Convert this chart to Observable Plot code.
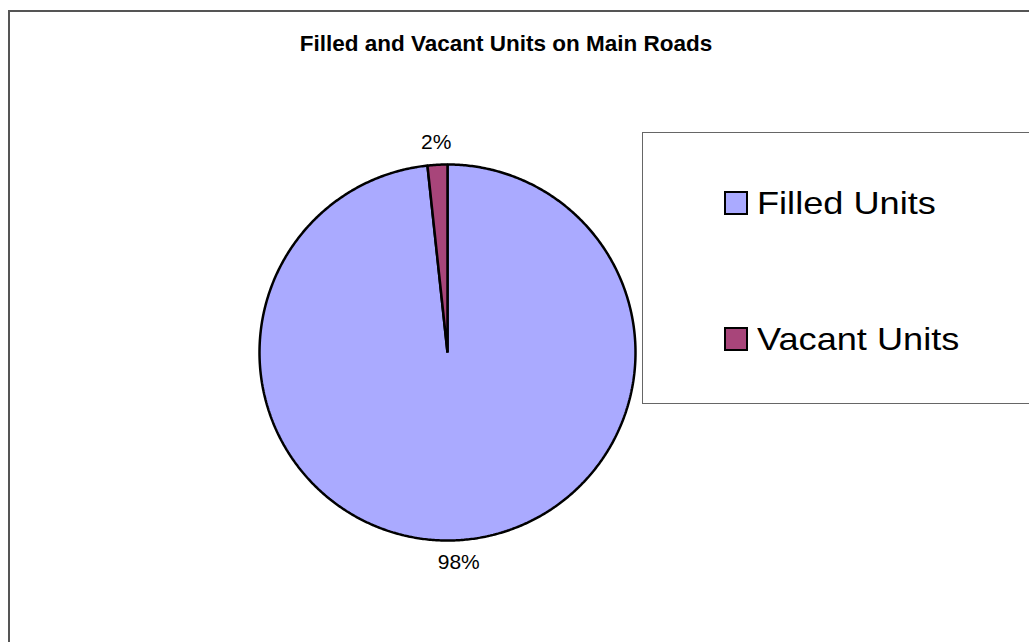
<!DOCTYPE html>
<html>
<head>
<meta charset="utf-8">
<script src="https://cdn.jsdelivr.net/npm/d3@7"></script>
<script src="https://cdn.jsdelivr.net/npm/@observablehq/plot@0.6"></script>
<style>
  html, body { margin: 0; padding: 0; background: #fff; }
  #wrap { position: relative; width: 1029px; height: 642px; overflow: hidden; font-family: "Liberation Sans", Arial, sans-serif; }
  #frame { position: absolute; left: 8px; top: 10px; width: 1100px; height: 700px; border-left: 2px solid #555; border-top: 2px solid #555; box-sizing: border-box; }
  #title { position: absolute; left: 0; width: 1012px; top: 31px; text-align: center; font-weight: bold; font-size: 22.5px; color: #000; }
  #legend { position: absolute; left: 642px; top: 132px; width: 500px; height: 272px; border: 1px solid #666; box-sizing: border-box; background: #fff; }
  .item { position: absolute; left: 81px; height: 26px; display: flex; align-items: center; }
  .sw { width: 20px; height: 20px; border: 2px solid #000; box-sizing: content-box; margin-right: 9px; }
  .lbl { font-size: 32px; line-height: 32px; transform: scaleX(1.13); transform-origin: left center; white-space: nowrap; }
  #chart { position: absolute; left: 0; top: 0; }
</style>
</head>
<body>
<div id="wrap">
  <div id="frame"></div>
  <div id="chart"></div>
  <div id="title"></div>
  <div id="legend"></div>
</div>
<script>
const title = "Filled and Vacant Units on Main Roads";
const categories = ["Filled Units", "Vacant Units"];
const values = [98.3, 1.7];
const labels = ["98%", "2%"];
const colors = ["#AAAAFF", "#A8457A"];

document.getElementById("title").textContent = title;

const data = categories.map((name, i) => ({name, value: values[i], label: labels[i]}));
const arcs = d3.pie().sort(null).value(d => d.value)(data);

// polygon points for each slice (center + arc samples)
const pts = [];
for (const a of arcs) {
  pts.push({name: a.data.name, x: 0, y: 0});
  const steps = Math.max(2, Math.ceil((a.endAngle - a.startAngle) / (Math.PI / 360)));
  for (let k = 0; k <= steps; k++) {
    const t = a.startAngle + (a.endAngle - a.startAngle) * k / steps;
    pts.push({name: a.data.name, x: Math.sin(t), y: Math.cos(t)});
  }
}
const labelPts = arcs.map(a => {
  const m = (a.startAngle + a.endAngle) / 2;
  return {label: a.data.label, x: 1.12 * Math.sin(m), y: 1.12 * Math.cos(m)};
});

const cx = 447, cy = 352, r = 188;
const chart = Plot.plot({
  width: 1029,
  height: 642,
  margin: 0,
  style: {background: "transparent", overflow: "visible"},
  x: {domain: [-1, 1], range: [cx - r, cx + r], axis: null},
  y: {domain: [-1, 1], range: [cy + r, cy - r], axis: null},
  color: {domain: categories, range: colors},
  marks: [
    Plot.line(pts, {x: "x", y: "y", z: "name", fill: "name", stroke: "#000", strokeWidth: 2.5, curve: "linear-closed", strokeLinejoin: "miter"}),
    Plot.text(labelPts, {x: "x", y: "y", text: "label", fontSize: 21, fill: "#000", fontFamily: "Liberation Sans, Arial, sans-serif"})
  ]
});
document.getElementById("chart").appendChild(chart);

const legend = document.getElementById("legend");
const tops = [57, 193];
categories.forEach((c, i) => {
  const it = document.createElement("div");
  it.className = "item";
  it.style.top = tops[i] + "px";
  const sw = document.createElement("div");
  sw.className = "sw";
  sw.style.background = colors[i];
  const lb = document.createElement("div");
  lb.className = "lbl";
  lb.textContent = c;
  it.appendChild(sw);
  it.appendChild(lb);
  legend.appendChild(it);
});
</script>
</body>
</html>
